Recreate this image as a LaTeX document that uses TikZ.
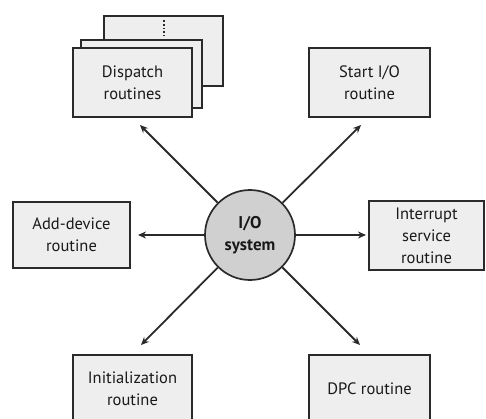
\documentclass[tikz,border=0pt]{standalone}
\usepackage{fontspec}
\setmainfont{PT Sans}
\usetikzlibrary{arrows.meta}
\definecolor{boxfill}{HTML}{EEEEEE}
\definecolor{circfill}{HTML}{D0D0D0}
\definecolor{linec}{HTML}{2A2A2A}
\begin{document}
\begin{tikzpicture}[x=1pt,y=-1pt,
  box/.style={draw=linec,line width=1.7pt,fill=boxfill},
  lbl/.style={align=center,font=\fontsize{16.5}{22}\selectfont,text=black!90,inner sep=0pt},
  arr/.style={draw=linec,line width=1.8pt,-{Stealth[length=8pt,width=7pt]}}]
\useasboundingbox (0,0) rectangle (486,418);
\clip (0,0) rectangle (486,418);
% dispatch stack
\draw[box] (104,16) rectangle (223,86);
\draw[linec,line width=1.8pt,dotted] (164,20) -- (164,36);
\draw[box] (81,40) rectangle (202,108);
\draw[box] (73,48) rectangle (192,117);
\node[lbl] (disp) at (132.5,83) {Dispatch\\routines};
% other boxes
\draw[box] (309,48) rectangle (430,117);
\node[lbl] (start) at (369.5,83) {Start I/O\\routine};
\draw[box] (13,202) rectangle (130,268);
\node[lbl] (add) at (71.5,235) {Add-device\\routine};
\draw[box] (369,201) rectangle (484,270);
\node[lbl] (isr) at (426.5,236) {Interrupt\\service\\routine};
\draw[box] (73,355) rectangle (192,430);
\node[lbl] (init) at (132.5,389) {Initialization\\routine};
\draw[box] (309,355) rectangle (430,430);
\node[lbl] (dpc) at (369.5,389) {DPC routine};
% center
\node[circle,draw=linec,line width=1.7pt,fill=circfill,minimum size=90pt,inner sep=0pt,
  align=center,font=\fontsize{17}{22}\selectfont\bfseries,text=black!90] (io) at (250,235) {I/O\\system};
\coordinate (tD) at (140,125);
\coordinate (tS) at (361,125);
\coordinate (tA) at (138,235);
\coordinate (tI) at (366,235);
\coordinate (tN) at (141,345);
\coordinate (tP) at (360,345);
\foreach \t in {tD,tS,tA,tI,tN,tP} \draw[arr] (io) -- (\t);
\end{tikzpicture}
\end{document}
